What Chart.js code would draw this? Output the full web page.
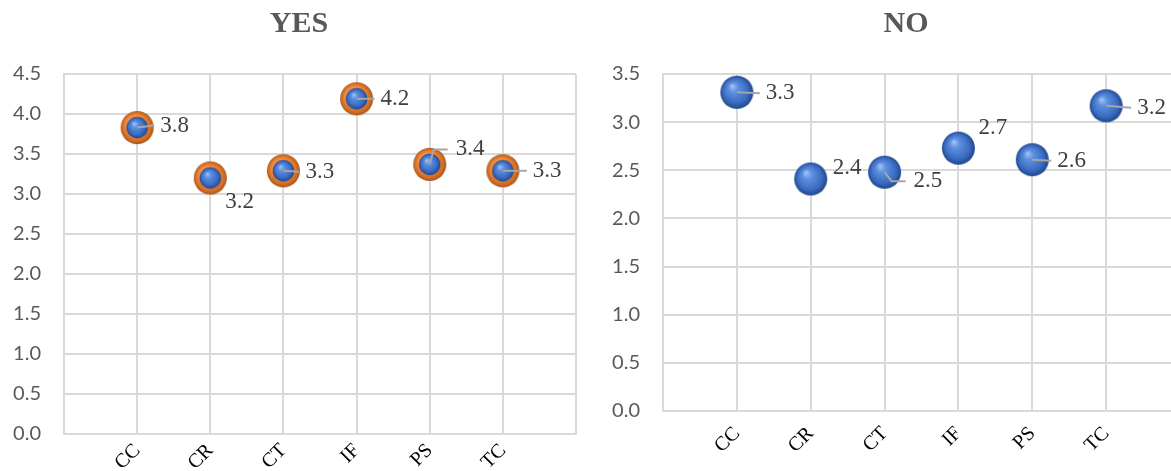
<!DOCTYPE html>
<html>
<head>
<meta charset="utf-8">
<script src="https://cdn.jsdelivr.net/npm/chart.js@4"></script>
<style>
  body { margin: 0; width: 1171px; height: 471px; overflow: hidden; background: #fff; position: relative; }
  canvas { position: absolute; top: 0; }
  #yesChart { left: 0; }
  #noChart { left: 590px; }
</style>
</head>
<body>
<canvas id="yesChart" width="598" height="471"></canvas>
<canvas id="noChart" width="632" height="471"></canvas>
<script>
'use strict';
const categories = ['CC', 'CR', 'CT', 'IF', 'PS', 'TC'];
const yesValues = [3.83, 3.2, 3.29, 4.19, 3.37, 3.29];
const noValues = [3.31, 2.41, 2.48, 2.73, 2.61, 3.17];

// label offsets from the point: [dx, dy, leader type]
const yesLabelPos = [[23, -2, 'line'], [15, 24, null], [22, 1, 'line'], [24, 0, 'line'], [26, -15, 'elbow'], [30, 0, 'line']];
const noLabelPos = [[29, 1, 'line'], [22, -11, null], [29, 9, 'elbow'], [20, -20, null], [25, 1, 'line'], [31, 2, 'line']];

function blueBall(ctx, c, r) {
  let g = ctx.createRadialGradient(c - r * 0.3, c - r * 0.4, 0, c, c, r);
  g.addColorStop(0, '#a8c7f7');
  g.addColorStop(0.3, '#5d8fe0');
  g.addColorStop(0.75, '#3b6cc2');
  g.addColorStop(1, '#21468c');
  ctx.fillStyle = g;
  ctx.beginPath();
  ctx.arc(c, c, r, 0, Math.PI * 2);
  ctx.fill();
}

function makeSphere(r, ring) {
  const cv = document.createElement('canvas');
  const size = Math.ceil(r * 2 + 2);
  cv.width = size;
  cv.height = size;
  const ctx = cv.getContext('2d');
  const c = size / 2;
  if (ring) {
    let g = ctx.createRadialGradient(c - r * 0.25, c - r * 0.35, 0, c, c, r);
    g.addColorStop(0, '#ffc080');
    g.addColorStop(0.65, '#f08436');
    g.addColorStop(0.9, '#cc6820');
    g.addColorStop(1, '#9a4c16');
    ctx.fillStyle = g;
    ctx.beginPath();
    ctx.arc(c, c, r, 0, Math.PI * 2);
    ctx.fill();
    blueBall(ctx, c, r * 0.65);
  } else {
    blueBall(ctx, c, r);
  }
  return cv;
}

const labelPlugin = {
  id: 'pointLabels',
  afterDatasetsDraw(chart) {
    const ctx = chart.ctx;
    const pos = chart.options.plugins.pointLabels.pos;
    const meta = chart.getDatasetMeta(0);
    const values = chart.data.datasets[0].data;
    ctx.save();
    meta.data.forEach((pt, i) => {
      const tx = pt.x + pos[i][0];
      const ty = pt.y + pos[i][1];
      ctx.strokeStyle = '#a6a6a6';
      ctx.lineWidth = 2;
      if (pos[i][2] === 'line') {
        ctx.beginPath();
        ctx.moveTo(pt.x, pt.y);
        ctx.lineTo(tx - 6, ty);
        ctx.stroke();
      } else if (pos[i][2] === 'elbow') {
        ctx.beginPath();
        ctx.moveTo(pt.x, pt.y);
        ctx.lineTo(tx - 22, ty);
        ctx.lineTo(tx - 8, ty);
        ctx.stroke();
      }
      ctx.fillStyle = '#404040';
      ctx.font = '23px "Liberation Serif"';
      ctx.textAlign = 'left';
      ctx.textBaseline = 'middle';
      ctx.fillText(values[i].y.toFixed(1), tx, ty);
    });
    ctx.restore();
  }
};

function buildChart(id, title, values, yMax, labelPos, ring, yWidth, xHeight, rightGap, xPad) {
  const points = values.map((v, i) => ({ x: i + 1, y: v }));
  const grid = { color: '#d9d9d9', lineWidth: 2, drawTicks: false };
  return new Chart(document.getElementById(id), {
    type: 'scatter',
    data: {
      datasets: [{
        data: points,
        pointStyle: makeSphere(16.5, ring),
        pointRadius: 16,
        showLine: false,
      }],
    },
    options: {
      responsive: false,
      animation: false,
      events: [],
      layout: { padding: 0 },
      plugins: {
        legend: { display: false },
        tooltip: { enabled: false },
        title: {
          display: true,
          text: title,
          color: '#595959',
          font: { family: '"Liberation Serif"', size: 30, weight: 'bold' },
          padding: { top: 6, bottom: 32 },
        },
        pointLabels: { pos: labelPos },
      },
      scales: {
        x: {
          type: 'linear',
          min: 0,
          max: 7,
          grid: grid,
          border: { color: '#d9d9d9', width: 2 },
          ticks: {
            stepSize: 1,
            autoSkip: false,
            maxRotation: 45,
            minRotation: 45,
            padding: xPad,
            color: '#000',
            font: { family: '"Liberation Serif"', size: 20 },
            callback: (v) => categories[v - 1] || '',
          },
          afterFit: (s) => { s.height = xHeight; },
        },
        y: {
          min: 0,
          max: yMax,
          grid: grid,
          border: { color: '#d9d9d9', width: 2 },
          ticks: {
            stepSize: 0.5,
            padding: 23,
            color: '#595959',
            font: { family: 'Lato', size: 20 },
            callback: (v) => v.toFixed(1),
          },
          afterFit: (s) => { s.width = yWidth; },
        },
        gap: {
          position: 'right',
          grid: { display: false },
          border: { display: false },
          ticks: { display: false },
          afterFit: (s) => { s.width = rightGap; },
        },
      },
    },
    plugins: [labelPlugin],
  });
}

buildChart('yesChart', 'YES', yesValues, 4.5, yesLabelPos, true, 64, 37, 22, 5);
buildChart('noChart', 'NO', noValues, 3.5, noLabelPos, false, 73, 60, 42, 11);
</script>
</body>
</html>
